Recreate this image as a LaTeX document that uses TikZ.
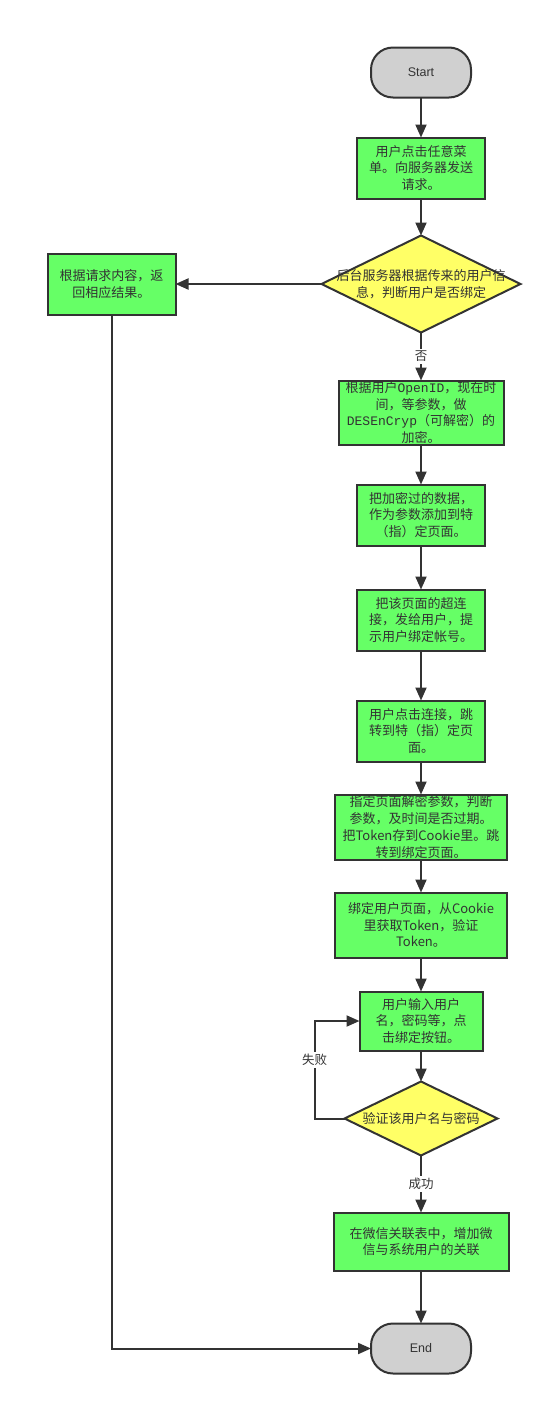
\documentclass[tikz,border=0pt]{standalone}
\usepackage{fontspec}
\setmainfont{Noto Sans CJK SC}
\newfontfamily\latinfont{Liberation Sans}
\newfontfamily\monofont{Liberation Mono}
\usetikzlibrary{shapes.geometric, arrows.meta, positioning}
\definecolor{LineColor}{HTML}{333333}
\definecolor{ProcFill}{HTML}{66FF66}
\definecolor{DecFill}{HTML}{FFFF66}
\definecolor{TermFill}{HTML}{D0D0D0}
\definecolor{TextDark}{HTML}{333333}

\begin{document}
\begin{tikzpicture}[
        x=1pt, y=1pt,
        node distance=40pt and 146pt,
        base/.style={draw=LineColor, line width=2pt, text=TextDark, align=center, inner sep=0pt, outer sep=0pt, font=\fontsize{13}{16.7}\selectfont},
        term/.style={base, rectangle, rounded corners=22pt, fill=TermFill, minimum width=100pt, minimum height=50pt, font=\latinfont\fontsize{12.5}{15}\selectfont},
        proc/.style={base, rectangle, fill=ProcFill, minimum width=128pt, minimum height=61pt},
        dec/.style={base, diamond, fill=DecFill},
        dtext/.style={text=TextDark, align=center, inner sep=0pt, font=\fontsize{13}{16.7}\selectfont},
        elabel/.style={fill=white, inner sep=2pt, text=TextDark, font=\fontsize{12.5}{15}\selectfont},
        arr/.style={-{Triangle[length=13pt, width=11pt]}, line width=2pt, LineColor}
      ]
        \useasboundingbox (0,0) rectangle (552,-1406);

        \node[term] (start) at (421,-72.5) {Start};
        \node[proc, below=40pt of start] (menu) {用户点击任意菜\\单。向服务器发送\\请求。};
        \node[dec, below=37pt of menu, minimum width=199pt, minimum height=97pt,
              label={[dtext]center:后台服务器根据传来的用户信\\息，判断用户是否绑定}] (chk) {};
        \node[proc, left=146pt of chk] (ret) {根据请求内容，返\\回相应结果。};
        \node[proc, below=48pt of chk, minimum width=165pt, minimum height=64pt] (openid) {根据用户{\monofont OpenID}，现在时\\间，等参数，做\\{\monofont DESEnCryp}（可解密）的\\加密。};
        \node[proc, below=40pt of openid] (encpage) {把加密过的数据，\\作为参数添加到特\\（指）定页面。};
        \node[proc, below=44pt of encpage] (link) {把该页面的超连\\接，发给用户，提\\示用户绑定帐号。};
        \node[proc, below=50pt of link] (jump) {用户点击连接，跳\\转到特（指）定页\\面。};
        \node[proc, below=33pt of jump, minimum width=172pt, minimum height=65pt] (decrypt) {指定页面解密参数，判断\\参数，及时间是否过期。\\把Token存到Cookie里。跳\\转到绑定页面。};
        \node[proc, below=33pt of decrypt, minimum width=172pt, minimum height=65pt] (bindpage) {绑定用户页面，从Cookie\\里获取Token，验证\\Token。};
        \node[proc, below=34pt of bindpage, minimum width=123pt, minimum height=59pt] (input) {用户输入用户\\名，密码等，点\\击绑定按钮。};
        \node[dec, below=31pt of input, minimum width=153pt, minimum height=74pt,
              label={[dtext]center:验证该用户名与密码}] (verify) {};
        \node[proc, below=57pt of verify, minimum width=175pt, minimum height=58pt] (assoc) {在微信关联表中，增加微\\信与系统用户的关联};
        \node[term, below=53pt of assoc] (finish) {End};

        \draw[arr] (start) -- (menu);
        \draw[arr] (menu) -- (chk);
        \draw[arr] (chk) -- (ret);
        \draw[arr] (chk) -- node[elabel] {否} (openid);
        \draw[arr] (openid) -- (encpage);
        \draw[arr] (encpage) -- (link);
        \draw[arr] (link) -- (jump);
        \draw[arr] (jump) -- (decrypt);
        \draw[arr] (decrypt) -- (bindpage);
        \draw[arr] (bindpage) -- (input);
        \draw[arr] (input) -- (verify);
        \draw[arr] (verify.west) -- ++(-30,0) |- node[elabel, pos=0.3] {失败} (input.west);
        \draw[arr] (verify) -- node[elabel] {成功} (assoc);
        \draw[arr] (assoc) -- (finish);
        \draw[arr] (ret.south) |- (finish.west);
      \end{tikzpicture}
\end{document}
